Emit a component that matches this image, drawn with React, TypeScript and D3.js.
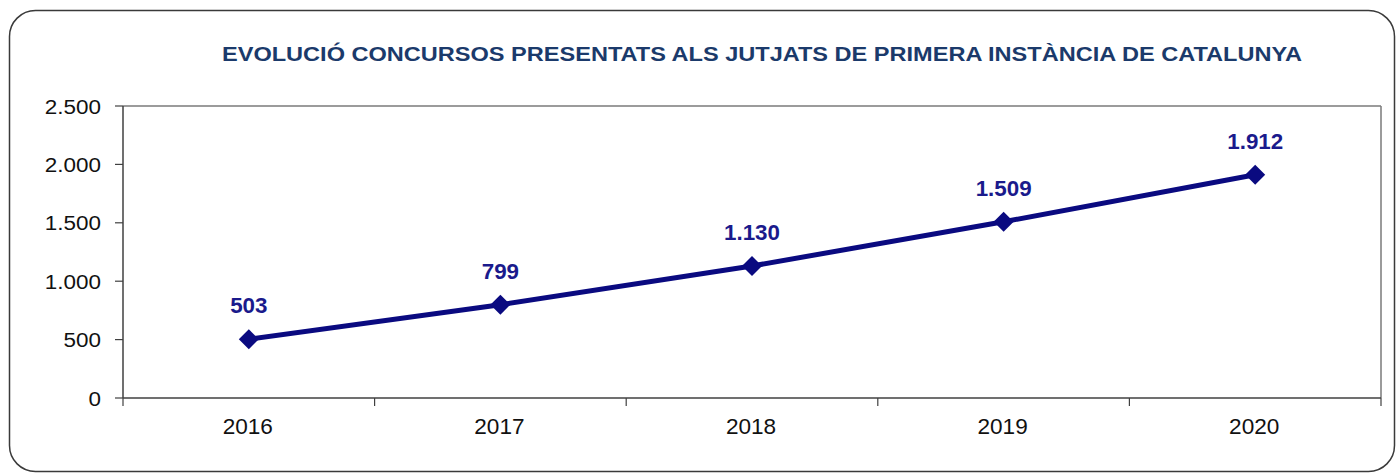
import React from "react";
import * as d3 from "d3";

const years = ["2016", "2017", "2018", "2019", "2020"];
const values = [503, 799, 1130, 1509, 1912];
const yTicks = [0, 500, 1000, 1500, 2000, 2500];
const title = "EVOLUCIÓ CONCURSOS PRESENTATS ALS JUTJATS DE PRIMERA INSTÀNCIA DE CATALUNYA";

const W = 1397;
const H = 474;
const plot = { left: 123, right: 1381, top: 106, bottom: 398 };

const fmt = (v: number) => {
  const s = String(v);
  return s.replace(/\B(?=(\d{3})+(?!\d))/g, ".");
};

export default function App() {
  const x = d3.scaleBand<string>().domain(years).range([plot.left, plot.right]).padding(0);
  const y = d3.scaleLinear().domain([0, 2500]).range([plot.bottom, plot.top]);
  const cx = (d: string) => (x(d) as number) + x.bandwidth() / 2;
  const line = d3
    .line<number>()
    .x((_, i) => cx(years[i]))
    .y((d) => y(d));
  const boundaries = [...years.map((d) => x(d) as number), plot.right];
  const font = "Arial, 'Liberation Sans', sans-serif";
  const T = (px: number, py: number, sx: number) => `translate(${px},${py}) scale(${sx},1)`;

  return (
    <svg
      width={W}
      height={H}
      style={{ position: "absolute", left: 0, top: 0, background: "#fff" }}
      fontFamily={font}
    >
      <rect x={9.5} y={10.5} width={1385} height={461} rx={26} ry={26} fill="#fff" stroke="#3a3a3a" strokeWidth={1.5} />
      <text
        x={762}
        y={61}
        textAnchor="middle"
        fontSize={21}
        fontWeight="bold"
        fill="#1b3a6b"
        textLength={1080}
        lengthAdjust="spacingAndGlyphs"
      >
        {title}
      </text>
      {/* plot frame top & right */}
      <line x1={plot.left} x2={plot.right} y1={plot.top} y2={plot.top} stroke="#7a7a7a" strokeWidth={1.5} />
      <line x1={plot.right} x2={plot.right} y1={plot.top} y2={plot.bottom} stroke="#7a7a7a" strokeWidth={1.5} />
      {/* axes */}
      <line x1={plot.left} x2={plot.left} y1={plot.top} y2={plot.bottom} stroke="#404040" strokeWidth={1.5} />
      <line x1={plot.left} x2={plot.right} y1={plot.bottom} y2={plot.bottom} stroke="#404040" strokeWidth={1.5} />
      {yTicks.map((t) => (
        <g key={t}>
          <line x1={plot.left - 8} x2={plot.left} y1={y(t)} y2={y(t)} stroke="#404040" strokeWidth={1.2} />
          <text transform={T(101, y(t) + 7.5, 1.07)} textAnchor="end" fontSize={21} fill="#111">
            {fmt(t)}
          </text>
        </g>
      ))}
      {boundaries.map((b, i) => (
        <line key={i} x1={b} x2={b} y1={plot.bottom} y2={plot.bottom + 8} stroke="#404040" strokeWidth={1.2} />
      ))}
      {years.map((yr) => (
        <text key={yr} transform={T(cx(yr) - 1, 433.5, 1.05)} textAnchor="middle" fontSize={21.5} fill="#111">
          {yr}
        </text>
      ))}
      <path d={line(values) || ""} fill="none" stroke="#0a0a80" strokeWidth={5} />
      {values.map((v, i) => {
        const px = cx(years[i]);
        const py = y(v);
        const r = 10;
        return (
          <path
            key={i}
            d={`M${px},${py - r}L${px + r},${py}L${px},${py + r}L${px - r},${py}Z`}
            fill="#0a0a80"
          />
        );
      })}
      {values.map((v, i) => (
        <text
          key={i}
          transform={T(cx(years[i]), y(v) - 26, 1.04)}
          textAnchor="middle"
          fontSize={21.5}
          fontWeight="bold"
          fill="#1a1a8c"
        >
          {fmt(v)}
        </text>
      ))}
    </svg>
  );
}
